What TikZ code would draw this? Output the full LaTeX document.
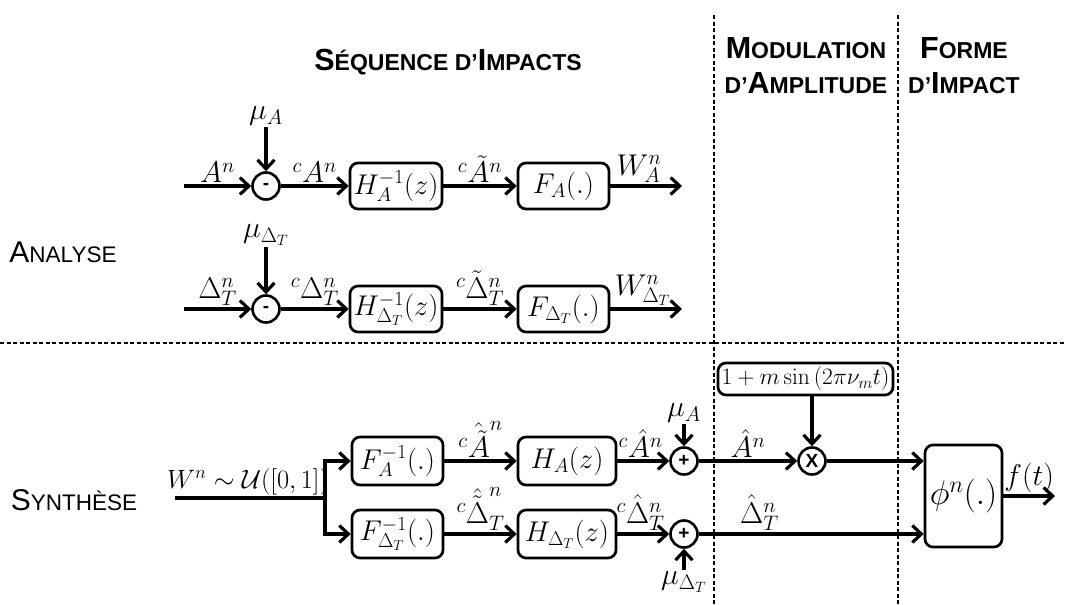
\RequirePackage{fix-cm}
\documentclass[tikz,border=0pt]{standalone}
\usepackage[no-math]{fontspec}
\usepackage{graphicx}
\newfontfamily\hs{Liberation Sans}
\usetikzlibrary{arrows.meta}
\newcommand\HB[1]{{\fontsize{30.5}{35}\selectfont #1}}
\newcommand\HS[1]{{\fontsize{23}{35}\selectfont #1}}
\newcommand\SB[1]{{\fontsize{30}{34}\selectfont #1}}
\newcommand\SSm[1]{{\fontsize{22.5}{34}\selectfont #1}}
\tikzset{
  blk/.style={draw, rounded corners=8pt, line width=2.7pt, inner sep=0pt, minimum height=46pt, font=\fontsize{28.5}{32}\selectfont},
  sumc/.style={draw, circle, line width=2.6pt, minimum size=27pt, inner sep=0pt, font=\hs\bfseries\fontsize{19}{19}\selectfont},
  conn/.style={line width=3.2pt, -{Straight Barb[length=9pt,width=17pt]}},
  wire/.style={line width=3.2pt},
  sepline/.style={line width=1.3pt, dash pattern=on 4pt off 2.5pt},
  lab/.style={inner sep=1.5pt, font=\fontsize{30}{34}\selectfont},
  head/.style={font=\hs\bfseries\fontsize{30}{35}\selectfont, align=center, inner sep=0pt},
  side/.style={font=\hs\fontsize{30}{34}\selectfont, inner sep=0pt}
}
\begin{document}
\begin{tikzpicture}[x=1pt,y=-1pt]
\useasboundingbox (0,0) rectangle (1066,605);

% separators
\draw[sepline] (0,343) -- (1066,343);
\draw[sepline] (714,15) -- (714,605);
\draw[sepline] (898,15) -- (898,605);

% headings
\node[head] (hseq) at (448,62) {\HB{S}\HS{ÉQUENCE D’}\HB{I}\HS{MPACTS}};
\node[head] (hmod) at (806,66) {\HB{M}\HS{ODULATION}\\\HS{D’}\HB{A}\HS{MPLITUDE}};
\node[head] (hform) at (964,66) {\HB{F}\HS{ORME}\\\HS{D’}\HB{I}\HS{MPACT}};
\node[side] (lan) at (63,252) {\SB{A}\SSm{NALYSE}};
\node[side] (lsy) at (74,500) {\SB{S}\SSm{YNTHÈSE}};

% ---------- analysis row 1
\coordinate (ain1) at (184,186);
\node[sumc] (s1) at (266,186) {-};
\node[lab] (mu1) at (266,116) {$\mu_A$};
\node[blk, minimum width=92pt] (hb1) at (396,186) {$H_A^{-1}(z)$};
\node[blk, minimum width=91pt] (fb1) at (563.5,186) {$F_A(.)$};
\coordinate (aout1) at (682,186);
\draw[conn] (ain1) -- node[lab,above]{$A^n$} (s1);
\draw[conn] (mu1) -- (s1);
\draw[conn] (s1) -- node[lab,above]{${}^cA^n$} (hb1);
\draw[conn] (hb1) -- node[lab,above]{${}^c\tilde{A}^n$} (fb1);
\draw[conn] (fb1) -- node[lab,above,pos=0.4]{$W_A^n$} (aout1);

% ---------- analysis row 2
\coordinate (ain2) at (184,309);
\node[sumc] (s2) at (266,309) {-};
\node[lab] (mu2) at (266,235) {$\mu_{\Delta_T}$};
\node[blk, minimum width=92pt] (hb2) at (396,309) {$H_{\Delta_T}^{-1}(z)$};
\node[blk, minimum width=91pt] (fb2) at (563.5,309) {$F_{\Delta_T}(.)$};
\coordinate (aout2) at (682,309);
\draw[conn] (ain2) -- node[lab,above]{$\Delta_T^n$} (s2);
\draw[conn] (mu2) -- (s2);
\draw[conn] (s2) -- node[lab,above]{${}^c\Delta_T^n$} (hb2);
\draw[conn] (hb2) -- node[lab,above]{${}^c\tilde{\Delta}_T^n$} (fb2);
\draw[conn] (fb2) -- node[lab,above,pos=0.45]{$W_{\Delta_T}^n$} (aout2);

% ---------- synthesis
\coordinate (win) at (175,498);
\coordinate (br) at (325,498);
\node[blk, minimum width=91pt, minimum height=48pt] (fa) at (397.5,461) {$F_A^{-1}(.)$};
\node[blk, minimum width=91pt, minimum height=48pt] (fd) at (397.5,534) {$F_{\Delta_T}^{-1}(.)$};
\node[blk, minimum width=98pt, minimum height=48pt] (ha) at (567,461) {$H_A(z)$};
\node[blk, minimum width=98pt, minimum height=48pt] (hd) at (567,534) {$H_{\Delta_T}(z)$};
\node[sumc] (pa) at (684,461) {+};
\node[sumc] (pd) at (684,534) {+};
\node[lab] (mua) at (684,413) {$\mu_A$};
\node[lab] (mud) at (684,582) {$\mu_{\Delta_T}$};
\node[sumc] (mx) at (812,461) {X};
\node[blk, minimum width=175pt, minimum height=32pt, font=\fontsize{23.5}{26}\selectfont] (mod) at (805.5,379) {$1+m\sin\left(2\pi\nu_m t\right)$};
\node[blk, minimum width=77pt, minimum height=102pt, font=\fontsize{34}{36}\selectfont] (phi) at (963.5,496) {$\phi^n(.)$};
\coordinate (fout) at (1055,496);

\draw[wire] (win) -- node[lab,above,font=\fontsize{26.5}{30}\selectfont,xshift=-2pt]{$W^n\sim\mathcal{U}([0,1])$} (br);
\draw[conn] (br) |- (fa.west);
\draw[conn] (br) |- (fd.west);
\draw[conn] (fa) -- node[lab,above]{${}^c\hat{\tilde{A}}^n$} (ha);
\draw[conn] (fd) -- node[lab,above]{${}^c\hat{\tilde{\Delta}}_T^n$} (hd);
\draw[conn] (ha) -- node[lab,above,pos=0.45]{${}^c\hat{A}^n$} (pa);
\draw[conn] (hd) -- node[lab,above,pos=0.45]{${}^c\hat{\Delta}_T^n$} (pd);
\draw[conn] (mua) -- (pa);
\draw[conn] (mud) -- (pd);
\draw[conn] (pa) -- node[lab,above]{$\hat{A}^n$} (mx);
\draw[conn] (mod.south -| mx) -- (mx);
\draw[conn] (mx) -- (mx -| phi.west);
\draw[conn] (pd) -- node[lab,above,pos=0.27]{$\hat{\Delta}_T^n$} (pd -| phi.west);
\draw[conn] (phi) -- node[lab,above]{$f(t)$} (fout);
\end{tikzpicture}
\end{document}
